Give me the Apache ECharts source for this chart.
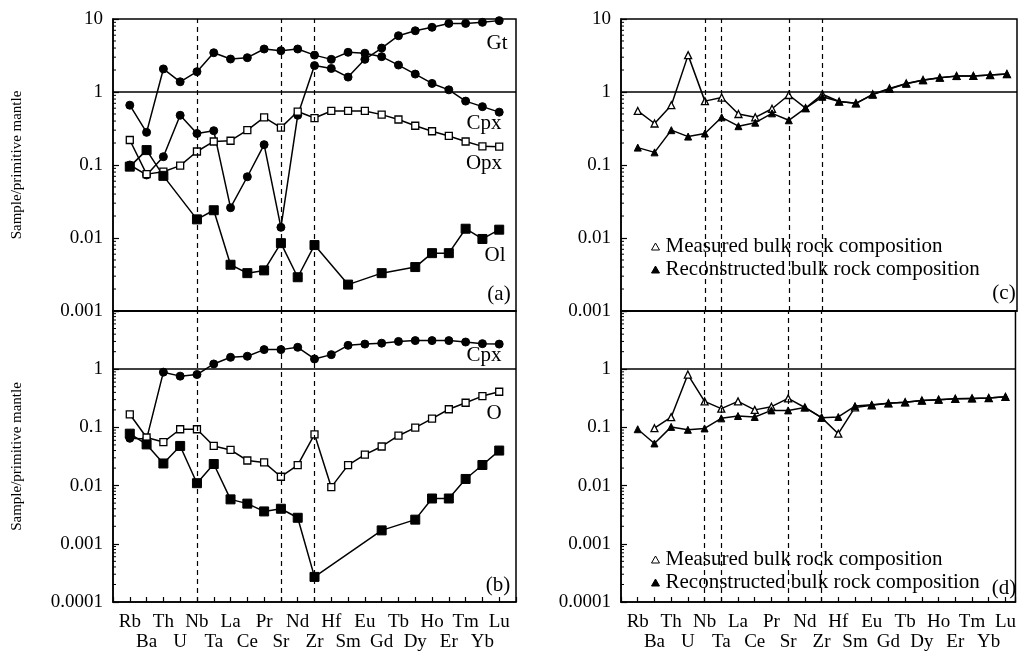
<!DOCTYPE html>
<html>
<head>
<meta charset="utf-8">
<script src="https://cdn.jsdelivr.net/npm/echarts@6/dist/echarts.min.js"></script>
<style>
  html, body { margin: 0; padding: 0; background: #fff; }
  #chart { width: 1019px; height: 653px; }
</style>
</head>
<body>
<div id="chart"></div>
<script>
// element order on the x axis
const elements = ['Rb', 'Ba', 'Th', 'U', 'Nb', 'Ta', 'La', 'Ce', 'Pr', 'Sr', 'Nd', 'Zr',
  'Hf', 'Sm', 'Eu', 'Gd', 'Tb', 'Dy', 'Ho', 'Er', 'Tm', 'Yb', 'Lu'];

// tick labels of the log axes, by exponent
const tickLabels = { '-4': '0.0001', '-3': '0.001', '-2': '0.01', '-1': '0.1', '0': '1', '1': '10' };

// panel (a)
const gtA = [0.10, 0.073, 0.13, 0.48, 0.27, 0.295, 0.026, 0.069, 0.19, 0.014, 0.48, 2.3,
  2.1, 1.6, 2.8, 4.0, 5.9, 6.9, 7.7, 8.7, 8.7, 9.0, 9.5];
const cpxA = [0.66, 0.28, 2.07, 1.38, 1.9, 3.45, 2.83, 2.95, 3.88, 3.68, 3.88, 3.2,
  2.8, 3.5, 3.4, 3.05, 2.34, 1.76, 1.31, 1.07, 0.75, 0.63, 0.53];
const opxA = [0.22, 0.075, 0.081, 0.098, 0.153, 0.21, 0.215, 0.30, 0.45, 0.325, 0.54, 0.44,
  0.55, 0.55, 0.55, 0.49, 0.42, 0.345, 0.29, 0.25, 0.21, 0.18, 0.178];
const olA = [0.095, 0.16, 0.071, null, 0.018, 0.024, 0.0043, 0.0033, 0.0036, 0.0085, 0.0029, 0.008,
  null, 0.0023, null, 0.0033, null, 0.004, 0.0062, 0.0062, 0.0134, 0.0097, 0.013];

// panel (b)
const cpxB = [0.065, 0.063, 0.89, 0.76, 0.81, 1.23, 1.6, 1.67, 2.17, 2.17, 2.38, 1.5,
  1.78, 2.57, 2.7, 2.8, 3.0, 3.1, 3.1, 3.1, 2.93, 2.75, 2.7];
const oB = [0.168, 0.067, 0.056, 0.093, 0.093, 0.048, 0.041, 0.027, 0.025, 0.0142, 0.0225, 0.076,
  0.0094, 0.0225, 0.034, 0.047, 0.072, 0.099, 0.142, 0.205, 0.265, 0.345, 0.41];
const olB = [0.078, 0.051, 0.024, 0.048, 0.011, 0.0235, 0.0058, 0.0049, 0.0036, 0.004, 0.0028, 0.00027,
  null, null, null, 0.0017, null, 0.0026, 0.006, 0.006, 0.013, 0.0226, 0.04];

// panel (c)
const measC = [0.55, 0.37, 0.66, 3.2, 0.75, 0.84, 0.50, 0.45, 0.59, 0.91, 0.60, 0.93,
  0.74, 0.70, 0.93, 1.12, 1.31, 1.46, 1.57, 1.66, 1.66, 1.71, 1.76];
const reconC = [0.173, 0.149, 0.30, 0.245, 0.27, 0.45, 0.34, 0.38, 0.51, 0.41, 0.60, 0.86,
  0.74, 0.70, 0.92, 1.1, 1.3, 1.45, 1.57, 1.65, 1.66, 1.71, 1.76];

// panel (d)
const measD = [null, 0.097, 0.15, 0.81, 0.28, 0.21, 0.28, 0.20, 0.227, 0.315, 0.22, 0.147,
  0.078, 0.22, 0.24, 0.26, 0.27, 0.29, 0.30, 0.31, 0.315, 0.32, 0.335];
const reconD = [0.093, 0.053, 0.102, 0.091, 0.096, 0.143, 0.157, 0.151, 0.196, 0.196, 0.22, 0.147,
  0.151, 0.233, 0.245, 0.26, 0.27, 0.29, 0.30, 0.31, 0.315, 0.32, 0.335];

const dashedLeft = [4, 9, 11];      // Nb, Sr, Zr
const dashedRight = [4, 5, 9, 11];  // Nb, Ta, Sr, Zr

const FONT = '"Liberation Serif", "DejaVu Serif", serif';
const MEAS = 'Measured bulk rock composition';
const RECON = 'Reconstructed bulk rock composition';

const grids = [
  { left: 113, top: 19, width: 403, height: 292 },
  { left: 113, top: 311, width: 403, height: 291 },
  { left: 621, top: 19, width: 396, height: 292 },
  { left: 621, top: 311, width: 396, height: 291 }
];
const yRange = [[0.001, 10], [0.0001, 10], [0.001, 10], [0.0001, 10]];
const xMax = [23, 23, 22.6, 22.6];

function pairs (arr) {
  return arr.map((v, i) => [i, v]);
}

function xAxisFor (i) {
  const bottom = i === 1 || i === 3;
  return {
    type: 'value',
    gridIndex: i,
    min: -1,
    max: xMax[i],
    interval: 1,
    axisLine: { show: true, onZero: false, lineStyle: { color: '#000', width: 1.5 } },
    axisTick: { show: bottom, inside: true, length: 5, lineStyle: { color: '#000', width: 1.2 } },
    splitLine: { show: false },
    axisLabel: {
      show: bottom,
      color: '#000',
      fontFamily: FONT,
      fontSize: 19,
      lineHeight: 20,
      margin: 10,
      formatter: function (v) {
        const name = elements[v];
        if (!name) return '';
        return v % 2 === 0 ? name : '\n' + name;
      }
    }
  };
}

function yAxisFor (i) {
  const bottom = i === 1 || i === 3;
  const ax = {
    type: 'log',
    logBase: 10,
    gridIndex: i,
    min: yRange[i][0],
    max: yRange[i][1],
    axisLine: { show: true, onZero: false, lineStyle: { color: '#000', width: 1.5 } },
    axisTick: { show: true, inside: true, length: 6, lineStyle: { color: '#000', width: 1.2 } },
    splitLine: { show: false },
    axisLabel: {
      color: '#000',
      fontFamily: FONT,
      fontSize: 19,
      margin: 10,
      formatter: function (v) {
        const e = Math.round(Math.log10(v));
        if (bottom && e === 1) return '';
        return tickLabels[String(e)] || '';
      }
    }
  };
  if (i < 2) {
    ax.name = 'Sample/primitive mantle';
    ax.nameLocation = 'middle';
    ax.nameGap = 88;
    ax.nameTextStyle = { fontFamily: FONT, fontSize: 15, color: '#000' };
  }
  return ax;
}

// log minor ticks on the left axis (2..9 in every decade)
function minorTickSeries (i) {
  const vals = [];
  const lo = Math.round(Math.log10(yRange[i][0]));
  const hi = Math.round(Math.log10(yRange[i][1]));
  for (let d = lo; d < hi; d++) {
    for (let k = 2; k <= 9; k++) vals.push([-1, k * Math.pow(10, d)]);
  }
  return {
    type: 'custom',
    xAxisIndex: i,
    yAxisIndex: i,
    silent: true,
    clip: false,
    data: vals,
    renderItem: function (params, api) {
      const p = api.coord([api.value(0), api.value(1)]);
      return {
        type: 'line',
        shape: { x1: p[0], y1: p[1], x2: p[0] + 3, y2: p[1] },
        style: { stroke: '#000', lineWidth: 1 }
      };
    }
  };
}

function refLines (i, dashed) {
  const data = dashed.map(x => ({
    xAxis: x,
    lineStyle: { type: [5, 4], color: '#000', width: 1.2 }
  }));
  data.push({ yAxis: 1, lineStyle: { type: 'solid', color: '#000', width: 1.5 } });
  return {
    silent: true,
    symbol: 'none',
    label: { show: false },
    animation: false,
    data: data
  };
}

function lineSeries (i, name, arr, symbol, size, filled, extra) {
  const s = {
    type: 'line',
    name: name,
    xAxisIndex: i,
    yAxisIndex: i,
    data: pairs(arr),
    connectNulls: true,
    symbol: symbol,
    symbolSize: size,
    showAllSymbol: true,
    lineStyle: { color: '#000', width: 1.5 },
    itemStyle: filled
      ? { color: '#000', borderColor: '#000', borderWidth: 1 }
      : { color: '#fff', borderColor: '#000', borderWidth: 1.3 },
    z: 3
  };
  return Object.assign(s, extra || {});
}

const series = [
  lineSeries(0, 'Gt', gtA, 'circle', 8, true, { markLine: refLines(0, dashedLeft) }),
  lineSeries(0, 'Cpx', cpxA, 'circle', 8, true),
  lineSeries(0, 'Opx', opxA, 'rect', 7, false),
  lineSeries(0, 'Ol', olA, 'rect', 9, true),
  lineSeries(1, 'Cpx b', cpxB, 'circle', 8, true, { markLine: refLines(1, dashedLeft) }),
  lineSeries(1, 'O', oB, 'rect', 7, false),
  lineSeries(1, 'Ol b', olB, 'rect', 9, true),
  lineSeries(2, MEAS, measC, 'triangle', 7, false, { markLine: refLines(2, dashedRight) }),
  lineSeries(2, RECON, reconC, 'triangle', 7, true),
  lineSeries(3, MEAS, measD, 'triangle', 7, false, { markLine: refLines(3, dashedRight) }),
  lineSeries(3, RECON, reconD, 'triangle', 7, true),
  minorTickSeries(0),
  minorTickSeries(1),
  minorTickSeries(2),
  minorTickSeries(3)
];

function legendAt (top) {
  return {
    left: 646,
    top: top,
    orient: 'vertical',
    itemWidth: 8,
    itemHeight: 7,
    itemGap: 2,
    selectedMode: false,
    textStyle: { fontFamily: FONT, fontSize: 21, color: '#000', padding: [0, 0, 0, 1] },
    data: [
      { name: MEAS, icon: 'triangle', itemStyle: { color: '#fff', borderColor: '#000', borderWidth: 1 } },
      { name: RECON, icon: 'triangle', itemStyle: { color: '#000', borderColor: '#000', borderWidth: 1 } }
    ]
  };
}

function tag (text, x, y) {
  return {
    type: 'text',
    x: x,
    y: y,
    silent: true,
    style: {
      text: text,
      fill: '#000',
      font: '21px ' + FONT,
      align: 'center',
      verticalAlign: 'middle'
    }
  };
}

const option = {
  animation: false,
  backgroundColor: '#fff',
  grid: grids.map(g => Object.assign({
    show: true,
    borderColor: '#000',
    borderWidth: 1.5,
    backgroundColor: 'transparent',
    containLabel: false
  }, g)),
  xAxis: [0, 1, 2, 3].map(xAxisFor),
  yAxis: [0, 1, 2, 3].map(yAxisFor),
  legend: [legendAt(231), legendAt(544)],
  graphic: [
    tag('Gt', 497, 43),
    tag('Cpx', 484, 123),
    tag('Opx', 484, 163),
    tag('Ol', 495, 255),
    tag('(a)', 499, 294),
    tag('Cpx', 484, 355),
    tag('O', 494, 413),
    tag('(b)', 498, 585),
    tag('(c)', 1004, 293),
    tag('(d)', 1004, 588)
  ],
  series: series
};

const chart = echarts.init(document.getElementById('chart'));
chart.setOption(option);
</script>
</body>
</html>
